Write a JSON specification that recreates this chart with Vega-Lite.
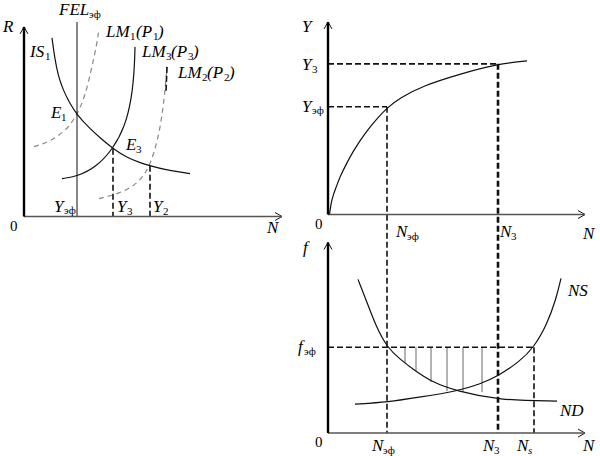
{
  "$schema": "https://vega.github.io/schema/vega-lite/v6.json",
  "width": 600,
  "height": 456,
  "autosize": {"type": "fit", "contains": "padding"},
  "padding": 0,
  "background": "white",
  "config": {"view": {"stroke": null}},
  "datasets": {
    "curves": [
      {"id": "IS1", "s": "solid", "i": 1, "x": 52, "y": 38},
      {"id": "IS1", "s": "solid", "i": 2, "x": 55, "y": 60},
      {"id": "IS1", "s": "solid", "i": 3, "x": 58, "y": 75},
      {"id": "IS1", "s": "solid", "i": 4, "x": 63, "y": 90},
      {"id": "IS1", "s": "solid", "i": 5, "x": 70, "y": 104},
      {"id": "IS1", "s": "solid", "i": 6, "x": 77, "y": 115},
      {"id": "IS1", "s": "solid", "i": 7, "x": 89, "y": 128},
      {"id": "IS1", "s": "solid", "i": 8, "x": 101, "y": 139},
      {"id": "IS1", "s": "solid", "i": 9, "x": 113, "y": 149},
      {"id": "IS1", "s": "solid", "i": 10, "x": 127, "y": 158},
      {"id": "IS1", "s": "solid", "i": 11, "x": 140, "y": 163},
      {"id": "IS1", "s": "solid", "i": 12, "x": 150, "y": 166},
      {"id": "IS1", "s": "solid", "i": 13, "x": 165, "y": 170},
      {"id": "IS1", "s": "solid", "i": 14, "x": 180, "y": 172.5},
      {"id": "IS1", "s": "solid", "i": 15, "x": 190, "y": 174},
      {"id": "LM1", "s": "grey", "i": 1, "x": 34, "y": 147},
      {"id": "LM1", "s": "grey", "i": 2, "x": 50, "y": 142},
      {"id": "LM1", "s": "grey", "i": 3, "x": 67, "y": 130},
      {"id": "LM1", "s": "grey", "i": 4, "x": 77, "y": 115},
      {"id": "LM1", "s": "grey", "i": 5, "x": 85, "y": 97},
      {"id": "LM1", "s": "grey", "i": 6, "x": 92, "y": 67},
      {"id": "LM1", "s": "grey", "i": 7, "x": 97, "y": 43},
      {"id": "LM1", "s": "grey", "i": 8, "x": 99, "y": 29},
      {"id": "LM3", "s": "solid", "i": 1, "x": 62, "y": 179},
      {"id": "LM3", "s": "solid", "i": 2, "x": 77, "y": 177},
      {"id": "LM3", "s": "solid", "i": 3, "x": 97, "y": 167},
      {"id": "LM3", "s": "solid", "i": 4, "x": 113, "y": 149},
      {"id": "LM3", "s": "solid", "i": 5, "x": 125, "y": 127},
      {"id": "LM3", "s": "solid", "i": 6, "x": 132, "y": 97},
      {"id": "LM3", "s": "solid", "i": 7, "x": 134.5, "y": 67},
      {"id": "LM3", "s": "solid", "i": 8, "x": 135, "y": 47},
      {"id": "LM2", "s": "grey", "i": 1, "x": 99, "y": 199},
      {"id": "LM2", "s": "grey", "i": 2, "x": 123, "y": 193},
      {"id": "LM2", "s": "grey", "i": 3, "x": 140, "y": 182},
      {"id": "LM2", "s": "grey", "i": 4, "x": 150, "y": 166},
      {"id": "LM2", "s": "grey", "i": 5, "x": 158, "y": 140},
      {"id": "LM2", "s": "grey", "i": 6, "x": 163, "y": 110},
      {"id": "LM2", "s": "grey", "i": 7, "x": 165.5, "y": 85},
      {"id": "LM2", "s": "grey", "i": 8, "x": 167, "y": 67},
      {"id": "PF", "s": "solid", "i": 1, "x": 329.5, "y": 215},
      {"id": "PF", "s": "solid", "i": 2, "x": 331, "y": 204},
      {"id": "PF", "s": "solid", "i": 3, "x": 333, "y": 196},
      {"id": "PF", "s": "solid", "i": 4, "x": 336, "y": 188},
      {"id": "PF", "s": "solid", "i": 5, "x": 340, "y": 177},
      {"id": "PF", "s": "solid", "i": 6, "x": 347, "y": 163},
      {"id": "PF", "s": "solid", "i": 7, "x": 353, "y": 152},
      {"id": "PF", "s": "solid", "i": 8, "x": 360, "y": 141},
      {"id": "PF", "s": "solid", "i": 9, "x": 367, "y": 131},
      {"id": "PF", "s": "solid", "i": 10, "x": 376, "y": 120},
      {"id": "PF", "s": "solid", "i": 11, "x": 387, "y": 108},
      {"id": "PF", "s": "solid", "i": 12, "x": 400, "y": 98},
      {"id": "PF", "s": "solid", "i": 13, "x": 423, "y": 86},
      {"id": "PF", "s": "solid", "i": 14, "x": 457, "y": 75},
      {"id": "PF", "s": "solid", "i": 15, "x": 498, "y": 64},
      {"id": "PF", "s": "solid", "i": 16, "x": 527, "y": 61},
      {"id": "ND", "s": "solid", "i": 1, "x": 358, "y": 280},
      {"id": "ND", "s": "solid", "i": 2, "x": 367, "y": 303},
      {"id": "ND", "s": "solid", "i": 3, "x": 376, "y": 327},
      {"id": "ND", "s": "solid", "i": 4, "x": 387, "y": 348},
      {"id": "ND", "s": "solid", "i": 5, "x": 400, "y": 360},
      {"id": "ND", "s": "solid", "i": 6, "x": 413, "y": 370},
      {"id": "ND", "s": "solid", "i": 7, "x": 432, "y": 383},
      {"id": "ND", "s": "solid", "i": 8, "x": 457, "y": 392},
      {"id": "ND", "s": "solid", "i": 9, "x": 498, "y": 401},
      {"id": "ND", "s": "solid", "i": 10, "x": 557, "y": 402},
      {"id": "NS", "s": "solid", "i": 1, "x": 355, "y": 405},
      {"id": "NS", "s": "solid", "i": 2, "x": 388, "y": 403},
      {"id": "NS", "s": "solid", "i": 3, "x": 420, "y": 398},
      {"id": "NS", "s": "solid", "i": 4, "x": 457, "y": 392},
      {"id": "NS", "s": "solid", "i": 5, "x": 480, "y": 385},
      {"id": "NS", "s": "solid", "i": 6, "x": 498, "y": 377},
      {"id": "NS", "s": "solid", "i": 7, "x": 520, "y": 362},
      {"id": "NS", "s": "solid", "i": 8, "x": 534, "y": 348},
      {"id": "NS", "s": "solid", "i": 9, "x": 547, "y": 325},
      {"id": "NS", "s": "solid", "i": 10, "x": 556, "y": 300},
      {"id": "NS", "s": "solid", "i": 11, "x": 561, "y": 279}
    ],
    "segs": [
      {"k": "axisV", "x": 24, "y": 217, "x2": 24, "y2": 27},
      {"k": "axisV", "x": 328, "y": 215, "x2": 328, "y2": 22},
      {"k": "axisV", "x": 328, "y": 434, "x2": 328, "y2": 243},
      {"k": "axisH", "x": 24, "y": 217, "x2": 282, "y2": 217},
      {"k": "axisH", "x": 328, "y": 215, "x2": 585, "y2": 215},
      {"k": "axisH", "x": 328, "y": 434, "x2": 585, "y2": 434},
      {"k": "thin", "x": 24, "y": 27, "x2": 20, "y2": 34},
      {"k": "thin", "x": 24, "y": 27, "x2": 28, "y2": 34},
      {"k": "thin", "x": 328, "y": 22, "x2": 324, "y2": 29},
      {"k": "thin", "x": 328, "y": 22, "x2": 332, "y2": 29},
      {"k": "thin", "x": 328, "y": 243, "x2": 324, "y2": 250},
      {"k": "thin", "x": 328, "y": 243, "x2": 332, "y2": 250},
      {"k": "thin", "x": 282, "y": 217, "x2": 275, "y2": 213},
      {"k": "thin", "x": 282, "y": 217, "x2": 275, "y2": 221},
      {"k": "thin", "x": 585, "y": 215, "x2": 578, "y2": 211},
      {"k": "thin", "x": 585, "y": 215, "x2": 578, "y2": 219},
      {"k": "thin", "x": 585, "y": 434, "x2": 578, "y2": 430},
      {"k": "thin", "x": 585, "y": 434, "x2": 578, "y2": 438},
      {"k": "thin", "x": 77, "y": 22, "x2": 77, "y2": 217},
      {"k": "dash", "x": 113, "y": 149, "x2": 113, "y2": 217},
      {"k": "dash", "x": 150, "y": 166, "x2": 150, "y2": 217},
      {"k": "dash", "x": 167, "y": 67, "x2": 166, "y2": 92},
      {"k": "dash", "x": 328, "y": 107, "x2": 387, "y2": 107},
      {"k": "dash", "x": 328, "y": 64, "x2": 498, "y2": 64},
      {"k": "dash", "x": 387, "y": 107, "x2": 387, "y2": 434},
      {"k": "dash", "x": 328, "y": 348, "x2": 534, "y2": 348},
      {"k": "dash", "x": 534, "y": 348, "x2": 534, "y2": 434},
      {"k": "thick", "x": 498, "y": 64, "x2": 498, "y2": 434},
      {"k": "hatch", "x": 405, "y": 348, "x2": 405, "y2": 364},
      {"k": "hatch", "x": 416, "y": 348, "x2": 416, "y2": 372},
      {"k": "hatch", "x": 431, "y": 348, "x2": 431, "y2": 383},
      {"k": "hatch", "x": 447, "y": 348, "x2": 447, "y2": 392},
      {"k": "hatch", "x": 463, "y": 348, "x2": 463, "y2": 393},
      {"k": "hatch", "x": 482, "y": 348, "x2": 482, "y2": 393}
    ],
    "labels": [
      {"k": "m", "t": "R", "x": 3, "y": 32},
      {"k": "m", "t": "N", "x": 267, "y": 234},
      {"k": "m", "t": "FEL", "x": 59, "y": 15},
      {"k": "m", "t": "IS", "x": 30, "y": 57},
      {"k": "m", "t": "LM", "x": 106, "y": 37},
      {"k": "m", "t": "(P", "x": 136, "y": 37},
      {"k": "m", "t": ")", "x": 158, "y": 37},
      {"k": "m", "t": "LM", "x": 142, "y": 57},
      {"k": "m", "t": "(P", "x": 171, "y": 57},
      {"k": "m", "t": ")", "x": 193, "y": 57},
      {"k": "m", "t": "LM", "x": 178, "y": 78},
      {"k": "m", "t": "(P", "x": 207, "y": 78},
      {"k": "m", "t": ")", "x": 229, "y": 78},
      {"k": "m", "t": "E", "x": 51, "y": 118},
      {"k": "m", "t": "E", "x": 126, "y": 150},
      {"k": "m", "t": "Y", "x": 54, "y": 212},
      {"k": "m", "t": "Y", "x": 117, "y": 212},
      {"k": "m", "t": "Y", "x": 153, "y": 212},
      {"k": "m", "t": "Y", "x": 302, "y": 32},
      {"k": "m", "t": "N", "x": 583, "y": 240},
      {"k": "m", "t": "Y", "x": 302, "y": 70},
      {"k": "m", "t": "Y", "x": 302, "y": 112},
      {"k": "m", "t": "N", "x": 396, "y": 238},
      {"k": "m", "t": "N", "x": 500, "y": 238},
      {"k": "m", "t": "f", "x": 303, "y": 254},
      {"k": "m", "t": "N", "x": 583, "y": 452},
      {"k": "m", "t": "f", "x": 298, "y": 353},
      {"k": "m", "t": "NS", "x": 568, "y": 297},
      {"k": "m", "t": "ND", "x": 560, "y": 417},
      {"k": "m", "t": "N", "x": 372, "y": 452},
      {"k": "m", "t": "N", "x": 483, "y": 452},
      {"k": "m", "t": "N", "x": 517, "y": 452},
      {"k": "s", "t": "эф", "x": 89, "y": 18},
      {"k": "s", "t": "1", "x": 45, "y": 60},
      {"k": "s", "t": "1", "x": 130, "y": 40},
      {"k": "s", "t": "1", "x": 153, "y": 40},
      {"k": "s", "t": "3", "x": 166, "y": 60},
      {"k": "s", "t": "3", "x": 188, "y": 60},
      {"k": "s", "t": "2", "x": 202, "y": 81},
      {"k": "s", "t": "2", "x": 224, "y": 81},
      {"k": "s", "t": "1", "x": 61, "y": 121},
      {"k": "s", "t": "3", "x": 136, "y": 153},
      {"k": "s", "t": "эф", "x": 64, "y": 214},
      {"k": "s", "t": "3", "x": 127, "y": 215},
      {"k": "s", "t": "2", "x": 163, "y": 215},
      {"k": "s", "t": "3", "x": 312, "y": 73},
      {"k": "s", "t": "эф", "x": 312, "y": 114},
      {"k": "s", "t": "эф", "x": 407, "y": 241},
      {"k": "s", "t": "3", "x": 511, "y": 241},
      {"k": "s", "t": "эф", "x": 304, "y": 356},
      {"k": "s", "t": "эф", "x": 383, "y": 455},
      {"k": "s", "t": "3", "x": 494, "y": 455},
      {"k": "si", "t": "s", "x": 528, "y": 455},
      {"k": "p", "t": "0", "x": 10, "y": 232},
      {"k": "p", "t": "0", "x": 315, "y": 230},
      {"k": "p", "t": "0", "x": 315, "y": 448}
    ]
  },
  "encoding": {
    "x": {"field": "x", "type": "quantitative", "scale": {"domain": [0, 600], "nice": false, "zero": false}, "axis": null},
    "y": {"field": "y", "type": "quantitative", "scale": {"domain": [0, 456], "reverse": true, "nice": false, "zero": false}, "axis": null}
  },
  "layer": [
    {
      "data": {"name": "segs"},
      "transform": [{"filter": "datum.k == 'hatch'"}],
      "mark": {"type": "rule", "color": "#666", "strokeWidth": 1},
      "encoding": {"x2": {"field": "x2"}, "y2": {"field": "y2"}}
    },
    {
      "data": {"name": "curves"},
      "transform": [{"filter": "datum.s == 'grey'"}],
      "mark": {"type": "line", "interpolate": "basis", "color": "#888", "strokeWidth": 1.2, "strokeDash": [5, 4]},
      "encoding": {"detail": {"field": "id"}, "order": {"field": "i", "type": "quantitative"}}
    },
    {
      "data": {"name": "curves"},
      "transform": [{"filter": "datum.s == 'solid'"}],
      "mark": {"type": "line", "interpolate": "basis", "color": "#111", "strokeWidth": 1.2},
      "encoding": {"detail": {"field": "id"}, "order": {"field": "i", "type": "quantitative"}}
    },
    {
      "data": {"name": "segs"},
      "transform": [{"filter": "datum.k == 'dash'"}],
      "mark": {"type": "rule", "color": "#111", "strokeWidth": 1.6, "strokeDash": [6, 3]},
      "encoding": {"x2": {"field": "x2"}, "y2": {"field": "y2"}}
    },
    {
      "data": {"name": "segs"},
      "transform": [{"filter": "datum.k == 'thick'"}],
      "mark": {"type": "rule", "color": "#111", "strokeWidth": 2.6, "strokeDash": [6, 3]},
      "encoding": {"x2": {"field": "x2"}, "y2": {"field": "y2"}}
    },
    {
      "data": {"name": "segs"},
      "transform": [{"filter": "datum.k == 'thin'"}],
      "mark": {"type": "rule", "color": "#111", "strokeWidth": 1},
      "encoding": {"x2": {"field": "x2"}, "y2": {"field": "y2"}}
    },
    {
      "data": {"name": "segs"},
      "transform": [{"filter": "datum.k == 'axisH'"}],
      "mark": {"type": "rule", "color": "#555", "strokeWidth": 1.5},
      "encoding": {"x2": {"field": "x2"}, "y2": {"field": "y2"}}
    },
    {
      "data": {"name": "segs"},
      "transform": [{"filter": "datum.k == 'axisV'"}],
      "mark": {"type": "rule", "color": "#000", "strokeWidth": 2.4},
      "encoding": {"x2": {"field": "x2"}, "y2": {"field": "y2"}}
    },
    {
      "data": {"name": "labels"},
      "transform": [{"filter": "datum.k == 'm'"}],
      "mark": {"type": "text", "align": "left", "baseline": "alphabetic", "font": "Liberation Serif", "fontStyle": "italic", "fontSize": 17, "color": "#000"},
      "encoding": {"text": {"field": "t"}}
    },
    {
      "data": {"name": "labels"},
      "transform": [{"filter": "datum.k == 's'"}],
      "mark": {"type": "text", "align": "left", "baseline": "alphabetic", "font": "Liberation Serif", "fontSize": 11, "color": "#000"},
      "encoding": {"text": {"field": "t"}}
    },
    {
      "data": {"name": "labels"},
      "transform": [{"filter": "datum.k == 'si'"}],
      "mark": {"type": "text", "align": "left", "baseline": "alphabetic", "font": "Liberation Serif", "fontStyle": "italic", "fontSize": 11, "color": "#000"},
      "encoding": {"text": {"field": "t"}}
    },
    {
      "data": {"name": "labels"},
      "transform": [{"filter": "datum.k == 'p'"}],
      "mark": {"type": "text", "align": "left", "baseline": "alphabetic", "font": "Liberation Serif", "fontSize": 15, "color": "#000"},
      "encoding": {"text": {"field": "t"}}
    }
  ]
}
